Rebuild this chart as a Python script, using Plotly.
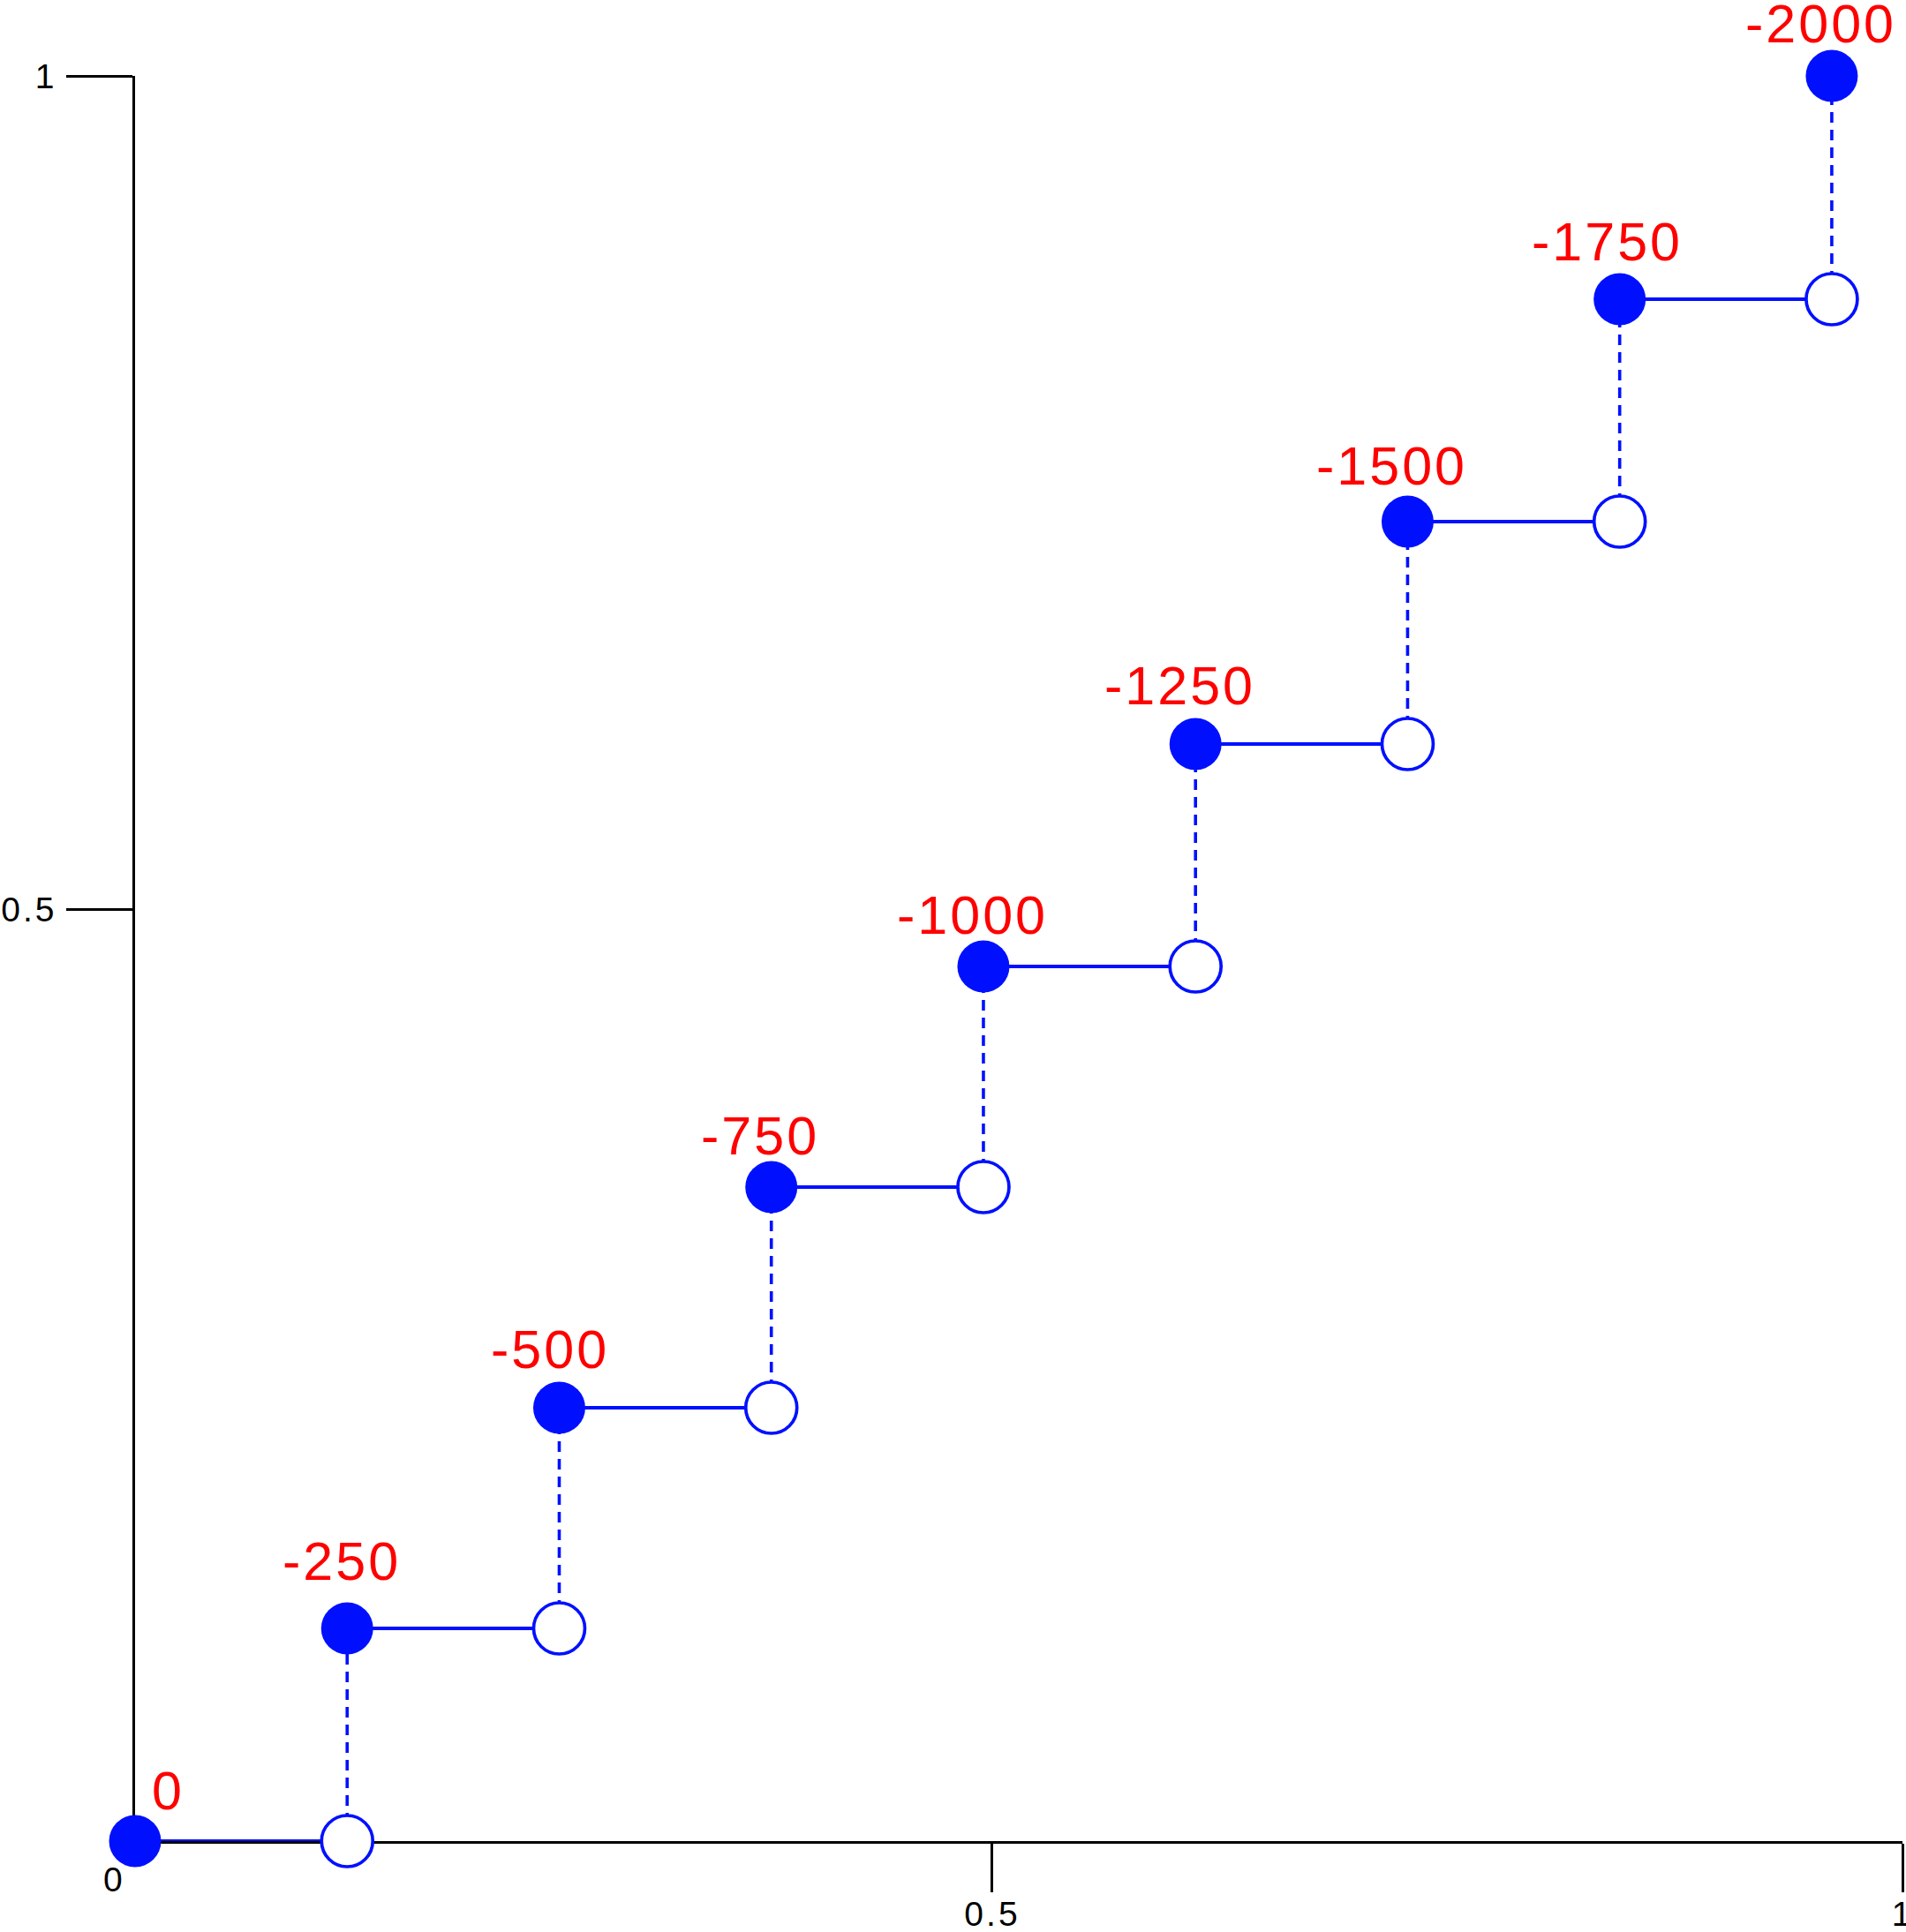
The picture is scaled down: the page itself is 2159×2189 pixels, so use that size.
import plotly.graph_objects as go

# ---- data ----
x_vals = [0, 0.12, 0.24, 0.36, 0.48, 0.60, 0.72, 0.84, 0.96]
y_vals = [0, 0.1205, 0.2455, 0.3705, 0.4955, 0.6215, 0.7475, 0.8735, 1.0]
point_labels = ["0", "-250", "-500", "-750", "-1000", "-1250", "-1500", "-1750", "-2000"]

x_tick_vals = [0.485, 1.0]
x_tick_text = ["0.5", "1"]
y_tick_vals = [0.528, 1.0]
y_tick_text = ["0.5", "1"]
origin_label = "0"

# ---- styling (pixel offsets of the red labels from their points) ----
label_dx = [37, -6, -10, -13, -12, -18, -18, -14, -12]
label_dy = [57, 76, 66, 58, 58, 66, 63, 65, 59]

BLUE = "#0010ff"
RED = "#ff0000"
FONT = "Liberation Sans, Arial, sans-serif"


def spaced(t, px=4):
    return f'<span style="letter-spacing:{px}px">{t}</span>'


# horizontal (solid) segments and vertical (dashed) segments built from the data
hx, hy, vx, vy = [], [], [], []
for i in range(len(x_vals) - 1):
    hx += [x_vals[i], x_vals[i + 1], None]
    hy += [y_vals[i], y_vals[i], None]
    vx += [x_vals[i + 1], x_vals[i + 1], None]
    vy += [y_vals[i], y_vals[i + 1], None]

open_x = x_vals[1:]
open_y = y_vals[:-1]

fig = go.Figure()
fig.add_trace(go.Scatter(x=hx, y=hy, mode="lines",
                         line=dict(color=BLUE, width=3.8),
                         cliponaxis=False, hoverinfo="skip", showlegend=False))
fig.add_trace(go.Scatter(x=vx, y=vy, mode="lines",
                         line=dict(color=BLUE, width=3.6, dash="12px,8px"),
                         cliponaxis=False, hoverinfo="skip", showlegend=False))
fig.add_trace(go.Scatter(x=open_x, y=open_y, mode="markers",
                         marker=dict(size=58, color="white",
                                     line=dict(color=BLUE, width=3.7)),
                         cliponaxis=False, hoverinfo="skip", showlegend=False))
fig.add_trace(go.Scatter(x=x_vals, y=y_vals, mode="markers",
                         marker=dict(size=59, color=BLUE, line=dict(width=0)),
                         cliponaxis=False, hoverinfo="skip", showlegend=False))

for xv, yv, lab, dx, dy in zip(x_vals, y_vals, point_labels, label_dx, label_dy):
    fig.add_annotation(x=xv, y=yv, text=spaced(lab, 3), showarrow=False,
                       xanchor="center", yanchor="middle", xshift=dx, yshift=dy,
                       font=dict(family=FONT, size=61, color=RED))

fig.add_annotation(x=0, y=0, text=origin_label, showarrow=False,
                   xanchor="center", yanchor="middle", xshift=-25, yshift=-43,
                   font=dict(family=FONT, size=39, color="black"))

fig.update_layout(
    width=2159, height=2189, autosize=False,
    margin=dict(l=153, r=4, t=86, b=103, pad=0),
    paper_bgcolor="white", plot_bgcolor="white",
    showlegend=False,
    font=dict(family=FONT, size=39, color="black"),
)
fig.update_xaxes(range=[0, 1], showgrid=False, zeroline=False, automargin=False,
                 showline=True, linecolor="black", linewidth=2.5,
                 ticks="outside", ticklen=55, tickwidth=2.5, tickcolor="black",
                 tickvals=x_tick_vals, ticktext=[spaced(t, 3) for t in x_tick_text],
                 tickfont=dict(family=FONT, size=39, color="black"),
                 ticklabelstandoff=-9, ticklabeloverflow="allow",
                 layer="below traces")
fig.update_yaxes(range=[0, 1], showgrid=False, zeroline=False, automargin=False,
                 showline=True, linecolor="black", linewidth=2.5,
                 ticks="outside", ticklen=75, tickwidth=2.5, tickcolor="black",
                 tickvals=y_tick_vals, ticktext=[spaced(t, 3) for t in y_tick_text],
                 tickfont=dict(family=FONT, size=39, color="black"),
                 ticklabelstandoff=3, ticklabeloverflow="allow",
                 layer="below traces")

fig.write_html("out.html",
               config={"displayModeBar": False},
               post_script="document.body.style.margin='0';"
                           "document.body.style.overflow='hidden';")
